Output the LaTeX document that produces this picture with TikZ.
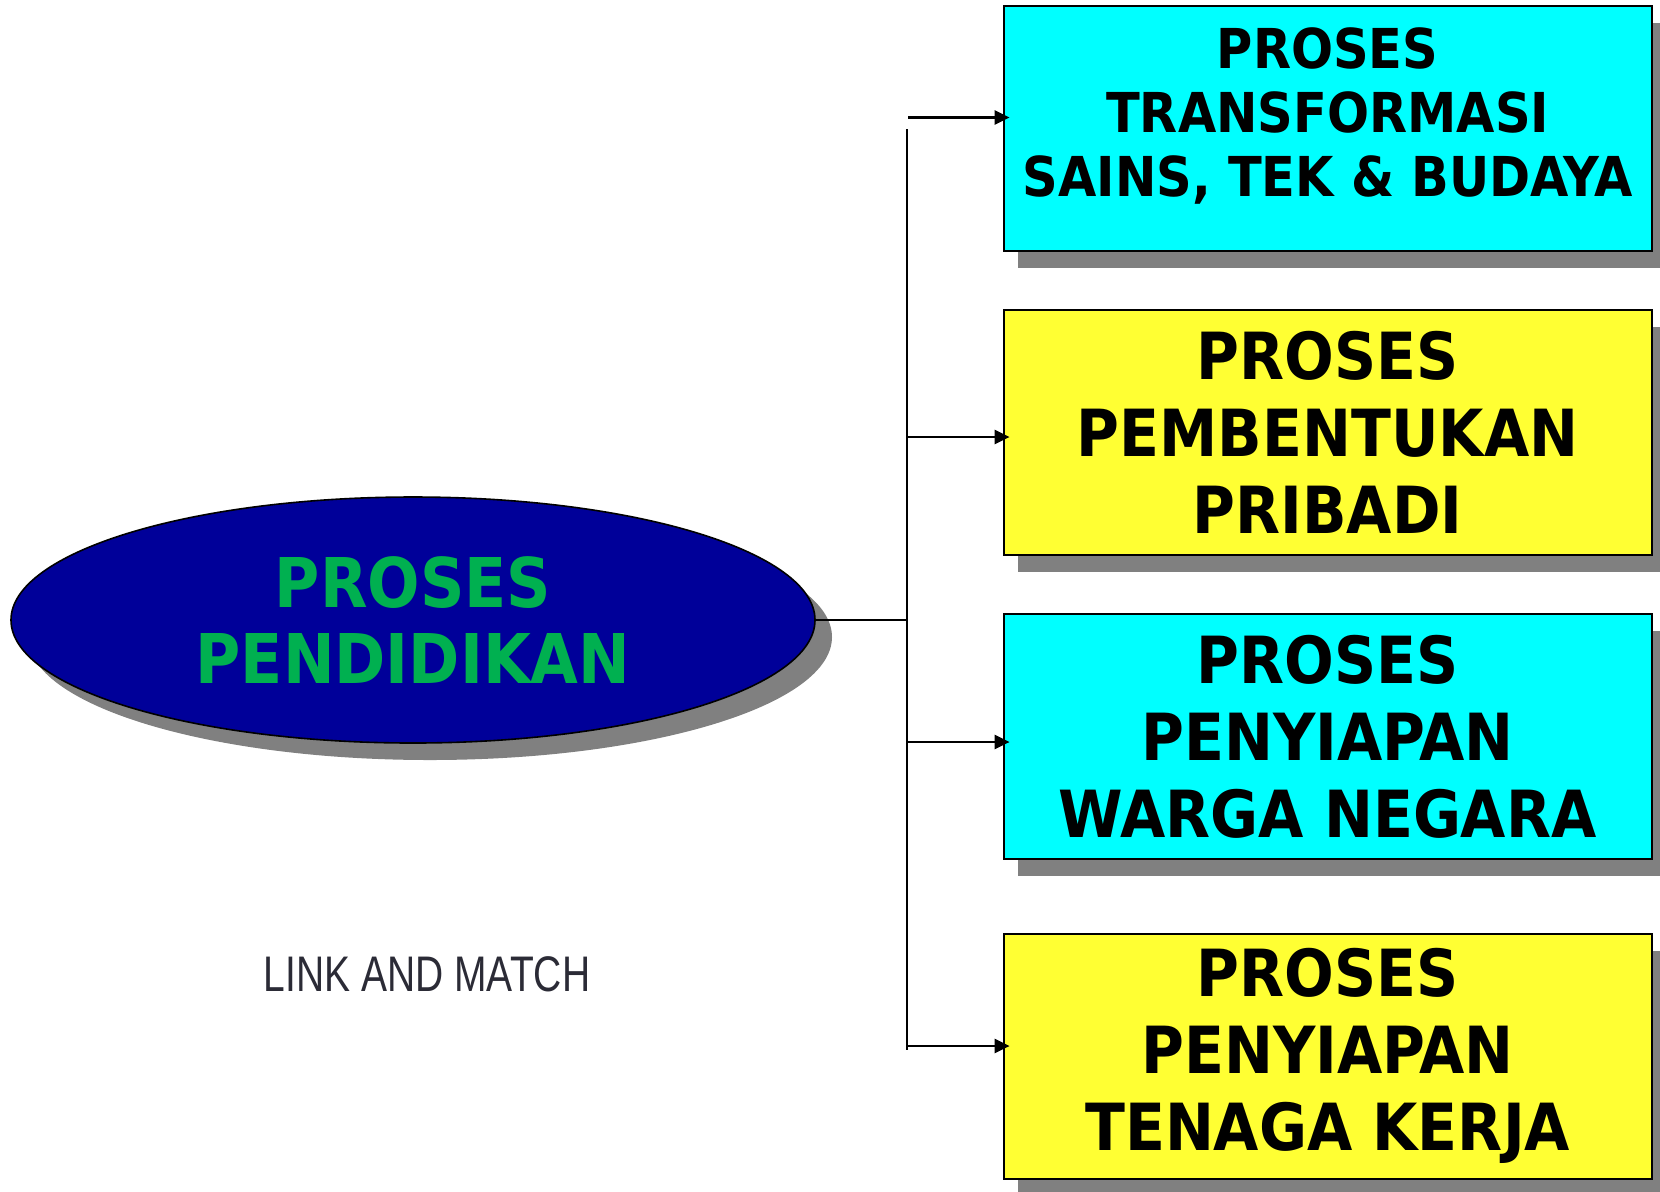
\documentclass[tikz,border=0pt]{standalone}
\usepackage{fontspec}
\usetikzlibrary{positioning, shapes, arrows.meta, shadows}
\newfontfamily\boxfont{DejaVu Sans Condensed}
\newfontfamily\linkfont{Liberation Sans}[FakeStretch=0.78]
\definecolor{boxcyan}{HTML}{00FFFF}
\definecolor{boxyellow}{HTML}{FFFF33}
\definecolor{ovalblue}{HTML}{000099}
\definecolor{ovalgreen}{HTML}{00B050}
\definecolor{shadowgray}{HTML}{808080}
\definecolor{linkgray}{HTML}{2B2B36}
\tikzset{
    %Define style for boxes
    box/.style={
           rectangle,
           draw=black, line width=1pt,
           minimum width=324pt,
           minimum height=122.5pt,
           inner sep=0pt,
           align=center,
           drop shadow={shadow xshift=7.4pt, shadow yshift=-8.5pt, fill=shadowgray, opacity=1}},
 %
  smalltext/.style={font={\boxfont\bfseries\fontsize{27.5pt}{32pt}\selectfont}},
 %
  bigtext/.style={font={\boxfont\bfseries\fontsize{32.5pt}{38.5pt}\selectfont}},
 %
  oval/.style={
           ellipse,
           draw=black, line width=0.8pt,
           fill=ovalblue,
           minimum width=402pt,
           minimum height=123pt,
           inner sep=0pt,
           align=center,
           text=ovalgreen,
           font={\boxfont\bfseries\fontsize{34.3pt}{38pt}\selectfont},
           drop shadow={shadow xshift=8.5pt, shadow yshift=-8.5pt, fill=shadowgray, opacity=1}},
%
    % Define arrow style
    arrow/.style={
           -{Triangle[length=7.5pt,width=7pt]},
           line width=1.2pt,
           shorten >=-3.5pt}
}
\begin{document}
\begin{tikzpicture}[x=0.5pt, y=-0.5pt]
  \useasboundingbox (0,0) rectangle (1660,1191);

  \node[oval] (pendidikan) at (413,620) {PROSES\\PENDIDIKAN};

  \node[box, smalltext, fill=boxcyan, text depth=17pt] (sains) at (1327.6,128.7)
       {PROSES\\TRANSFORMASI\\SAINS, TEK \& BUDAYA};
  \node[box, bigtext, fill=boxyellow] (pribadi) at (1327.6,432.5)
       {PROSES\\PEMBENTUKAN\\PRIBADI};
  \node[box, bigtext, fill=boxcyan] (warga) at (1327.6,736.5)
       {PROSES\\PENYIAPAN\\WARGA NEGARA};
  \node[box, bigtext, fill=boxyellow] (kerja) at (1327.6,1056)
       {PROSES\\PENYIAPAN\\TENAGA KERJA};

  \node[font={\linkfont\fontsize{25pt}{30pt}\selectfont}, text=linkgray] (link) at (427,974) {LINK AND MATCH};

  % trunk
  \coordinate (top) at (907,129);
  \coordinate (bottom) at (907,1050);
  \coordinate (mid) at (907,620);
  \draw[line width=1pt] (top) -- (bottom);
  \draw[line width=1.2pt] (pendidikan.east) -- (mid);

  % branches
  \coordinate (b1) at (908,117.5);
  \coordinate (b2) at (908,437);
  \coordinate (b3) at (908,742);
  \coordinate (b4) at (908,1046);
  \draw[arrow] (b1) -- (b1 -| sains.west);
  \draw[arrow] (b2) -- (b2 -| pribadi.west);
  \draw[arrow] (b3) -- (b3 -| warga.west);
  \draw[arrow] (b4) -- (b4 -| kerja.west);
\end{tikzpicture}
\end{document}
